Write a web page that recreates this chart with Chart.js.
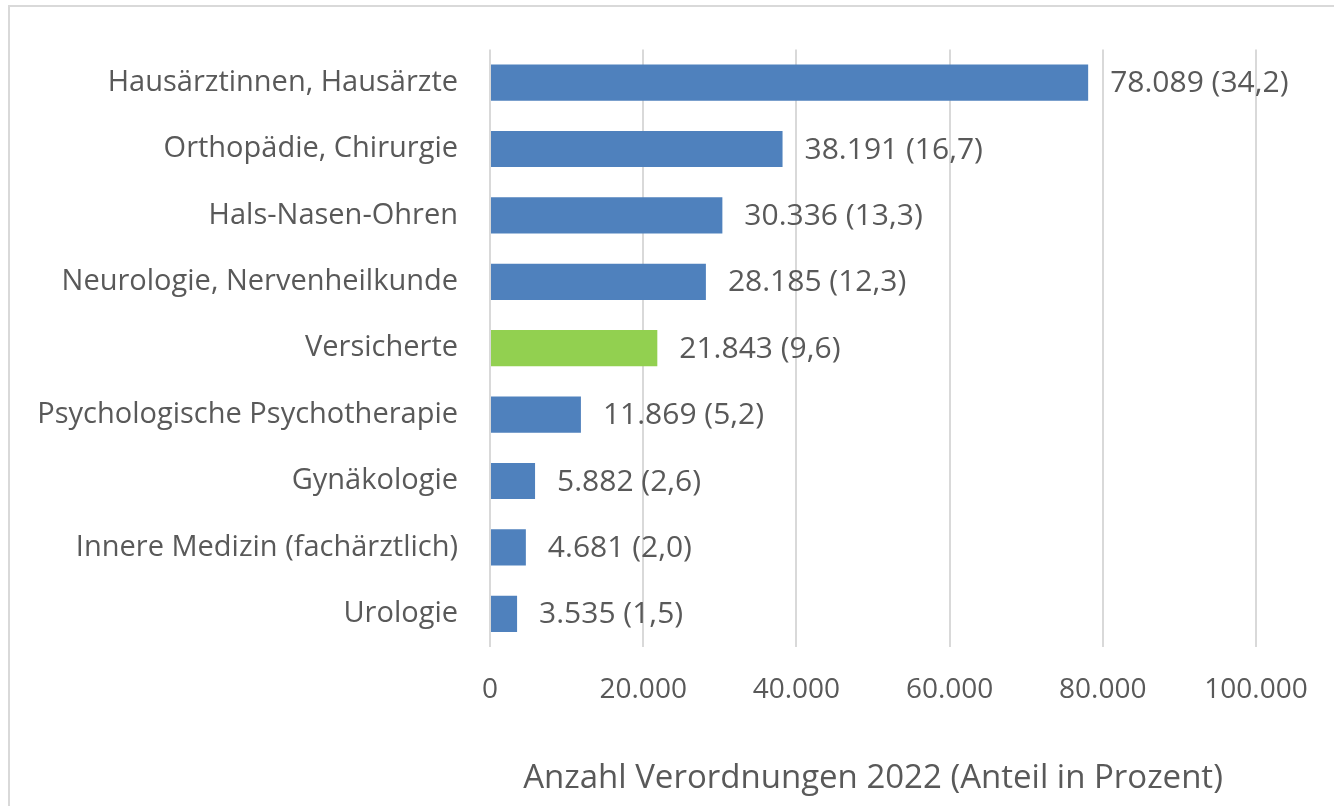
<!DOCTYPE html>
<html>
<head>
<meta charset="utf-8">
<script src="https://cdn.jsdelivr.net/npm/chart.js@4"></script>
<style>
  html, body { margin: 0; padding: 0; background: #fff; overflow: hidden; }
  #frame { position: absolute; left: 8px; top: 5px; width: 1400px; height: 900px; border: 2px solid #d9d9d9; }
  #wrap { position: absolute; left: 0; top: 0; width: 1334px; height: 806px; }
</style>
</head>
<body>
<div id="frame"></div>
<div id="wrap"><canvas id="Chart"></canvas></div>
<script>
const kategorien = [
  'Hausärztinnen, Hausärzte',
  'Orthopädie, Chirurgie',
  'Hals-Nasen-Ohren',
  'Neurologie, Nervenheilkunde',
  'Versicherte',
  'Psychologische Psychotherapie',
  'Gynäkologie',
  'Innere Medizin (fachärztlich)',
  'Urologie'
];
const anzahl = [78089, 38191, 30336, 28185, 21843, 11869, 5882, 4681, 3535];
const anteil = ['34,2', '16,7', '13,3', '12,3', '9,6', '5,2', '2,6', '2,0', '1,5'];
const farben = ['#4f81bd', '#4f81bd', '#4f81bd', '#4f81bd', '#92d050', '#4f81bd', '#4f81bd', '#4f81bd', '#4f81bd'];
const achsenTitel = 'Anzahl Verordnungen 2022 (Anteil in Prozent)';

const schrift = '"Open Sans", "Noto Sans", sans-serif';
const grau = '#595959';

const tausender = (n) => String(n).replace(/\B(?=(\d{3})+(?!\d))/g, '.');

// Werte rechts neben die Balken schreiben
const werteLabels = {
  id: 'werteLabels',
  afterDatasetsDraw(chart) {
    const ctx = chart.ctx;
    const meta = chart.getDatasetMeta(0);
    ctx.save();
    ctx.font = '30px ' + schrift;
    ctx.fillStyle = grau;
    ctx.textBaseline = 'middle';
    ctx.textAlign = 'left';
    meta.data.forEach((bar, i) => {
      ctx.fillText(tausender(anzahl[i]) + ' (' + anteil[i] + ')', bar.x + 22, bar.y + 1);
    });
    ctx.restore();
  }
};

const canvas = document.getElementById('Chart');
const ctx = canvas.getContext('2d');

const chart = new Chart(ctx, {
  type: 'bar',
  data: {
    labels: kategorien,
    datasets: [{
      data: anzahl,
      backgroundColor: farben,
      borderWidth: 0,
      barPercentage: 0.545,
      categoryPercentage: 1
    }]
  },
  options: {
    indexAxis: 'y',
    responsive: true,
    maintainAspectRatio: false,
    animation: false,
    layout: { padding: { top: 47, right: 78, left: 0, bottom: 8 } },
    plugins: {
      legend: { display: false },
      tooltip: { enabled: false }
    },
    scales: {
      x: {
        min: 0,
        max: 100000,
        ticks: {
          stepSize: 20000,
          color: grau,
          font: { family: schrift, size: 28 },
          padding: 26,
          callback: (v) => tausender(v)
        },
        grid: { color: '#d9d9d9', lineWidth: 2, drawTicks: false },
        border: { display: false },
        title: {
          display: true,
          text: achsenTitel,
          color: grau,
          font: { family: schrift, size: 33 },
          padding: { top: 40, bottom: 0 }
        },
        afterFit: (s) => { s.height = 806 - 647 - 8; }
      },
      y: {
        ticks: {
          color: grau,
          font: { family: schrift, size: 29 },
          padding: 32
        },
        grid: { display: false, drawTicks: false },
        border: { display: false },
        afterFit: (s) => { s.width = 490; }
      }
    }
  },
  plugins: [werteLabels]
});
</script>
</body>
</html>
